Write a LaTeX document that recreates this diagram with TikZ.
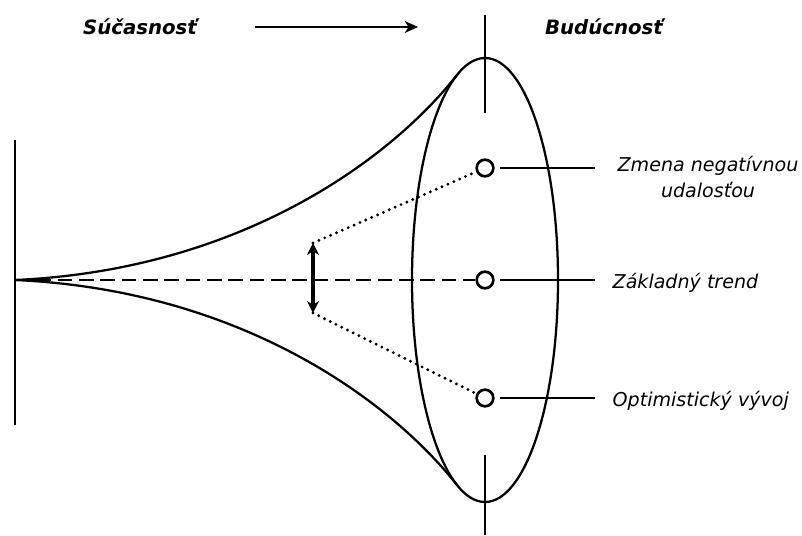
\documentclass[tikz,border=0pt]{standalone}
\usepackage{fontspec}
\setmainfont{DejaVu Sans}
\usetikzlibrary{arrows.meta,positioning}

\begin{document}
\begin{tikzpicture}[
    x=0.75pt, y=-0.75pt,
    line/.style={line width=1.7pt},
    dot/.style={draw, circle, line width=2pt, minimum size=12.5pt, inner sep=0pt},
    lbl/.style={font=\fontsize{14.3}{19}\selectfont\itshape, align=center},
    ttl/.style={font=\fontsize{14.8}{17}\selectfont\bfseries\itshape},
    arr/.style={-{Stealth[length=10pt, width=9pt, inset=3pt]}, line width=1.5pt},
    spread/.style={{Stealth[length=9pt, width=9pt]}-{Stealth[length=9pt, width=9pt]}, line width=3.4pt},
    dotline/.style={line width=2.4pt, line cap=round, dash pattern=on 0pt off 4.8pt},
    dashline/.style={line width=1.5pt, dash pattern=on 11pt off 5pt},
]
    \useasboundingbox (0,0) rectangle (802,535);

    % Time axis
    \node [ttl] (now-lbl) at (140,27) {Súčasnosť};
    \node [ttl] (future-lbl) at (604,27) {Budúcnosť};
    \coordinate (time-a) at (255,27);
    \coordinate (time-b) at (418,27);
    \draw [arr] (time-a) -- (time-b);

    % Present: line and apex
    \coordinate (now) at (15,280);
    \coordinate (now-top) at (15,140);
    \coordinate (now-bot) at (15,425);
    \draw [line] (now-top) -- (now-bot);

    % Future: ellipse with its axis
    \coordinate (fut) at (485,280);
    \draw [line] (fut) ellipse [x radius=73, y radius=222];
    \coordinate (fut-a) at (485,15);
    \coordinate (fut-b) at (485,113);
    \coordinate (fut-c) at (485,455);
    \coordinate (fut-d) at (485,535);
    \draw [line] (fut-a) -- (fut-b);
    \draw [line] (fut-c) -- (fut-d);

    % Funnel
    \draw [line] (now) .. controls (240,270) and (390,160) .. (457,75);
    \draw [line] (now) .. controls (240,290) and (390,400) .. (457,485);

    % Scenarios
    \node [dot, fill=white] (neg) at (485,168) {};
    \node [dot, fill=white] (trend) at (485,280) {};
    \node [dot, fill=white] (opt) at (485,398) {};

    \draw [dashline] (now) -- (trend);

    % Spread of the scenarios
    \coordinate (spread-top) at (313,243);
    \coordinate (spread-bot) at (313,313);
    \draw [spread] (spread-top) -- (spread-bot);
    \draw [dotline] (spread-top) -- (neg);
    \draw [dotline] (spread-bot) -- (opt);

    % Labels
    \coordinate (neg-end) at (595,168);
    \coordinate (trend-end) at (595,280);
    \coordinate (opt-end) at (595,398);
    \draw [line, shorten <=4pt] (neg) -- (neg-end);
    \draw [line, shorten <=4pt] (trend) -- (trend-end);
    \draw [line, shorten <=4pt] (opt) -- (opt-end);

    \node [lbl] (neg-lbl) at (708,177) {Zmena negatívnou\\udalosťou};
    \node [lbl, anchor=west] (trend-lbl) at (608,283) {Základný trend};
    \node [lbl, anchor=west] (opt-lbl) at (608,401) {Optimistický vývoj};
\end{tikzpicture}
\end{document}
